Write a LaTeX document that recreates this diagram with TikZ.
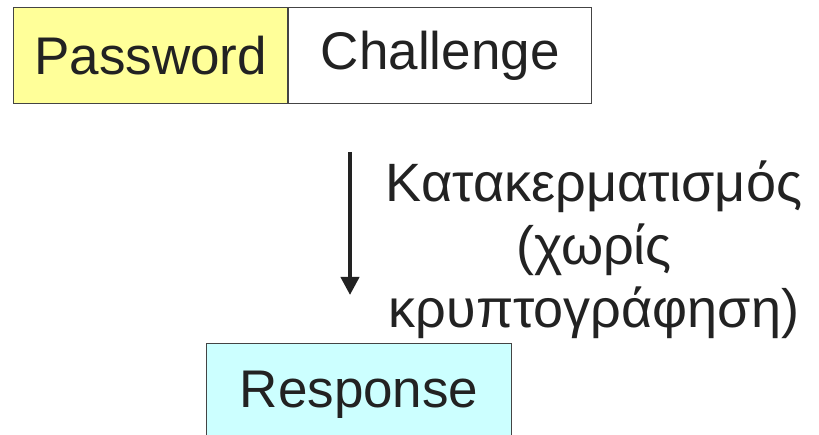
\documentclass[tikz,border=0pt]{standalone}
\usepackage{fontspec}
\setmainfont{Liberation Sans}
\usetikzlibrary{arrows.meta}
\definecolor{pwyellow}{HTML}{FFFF99}
\definecolor{respcyan}{HTML}{CCFFFF}
\definecolor{txt}{HTML}{222222}
\definecolor{edge}{HTML}{444444}
\begin{document}
\begin{tikzpicture}[x=1pt,y=1pt,
  box/.style={draw=edge, line width=1.2pt, inner sep=0pt, text=txt,
    font=\fontsize{53}{60}\selectfont},
  lbl/.style={text=txt, align=center, font=\fontsize{54}{63}\selectfont}]
\useasboundingbox (0,0) rectangle (819,435);
\clip (0,0) rectangle (819,435);
\node[box, fill=pwyellow, minimum width=274, minimum height=96, anchor=north west] (pw) at (13,428) {Password};
\node[box, fill=white, minimum width=303, minimum height=96, anchor=north west] (ch) at (pw.north east) {Challenge};
\node[box, fill=respcyan, minimum width=305, minimum height=102, anchor=north west] (resp) at (206,92) {Response};
\coordinate (a1) at (350,283);
\coordinate (a2) at (350,140);
\draw[draw=txt, line width=4, -{Triangle[length=18,width=18]}] (a1) -- (a2);
\node[lbl] (hash) at (594,185) {Κατακερματισμός\\(χωρίς\\κρυπτογράφηση)};
\end{tikzpicture}
\end{document}
